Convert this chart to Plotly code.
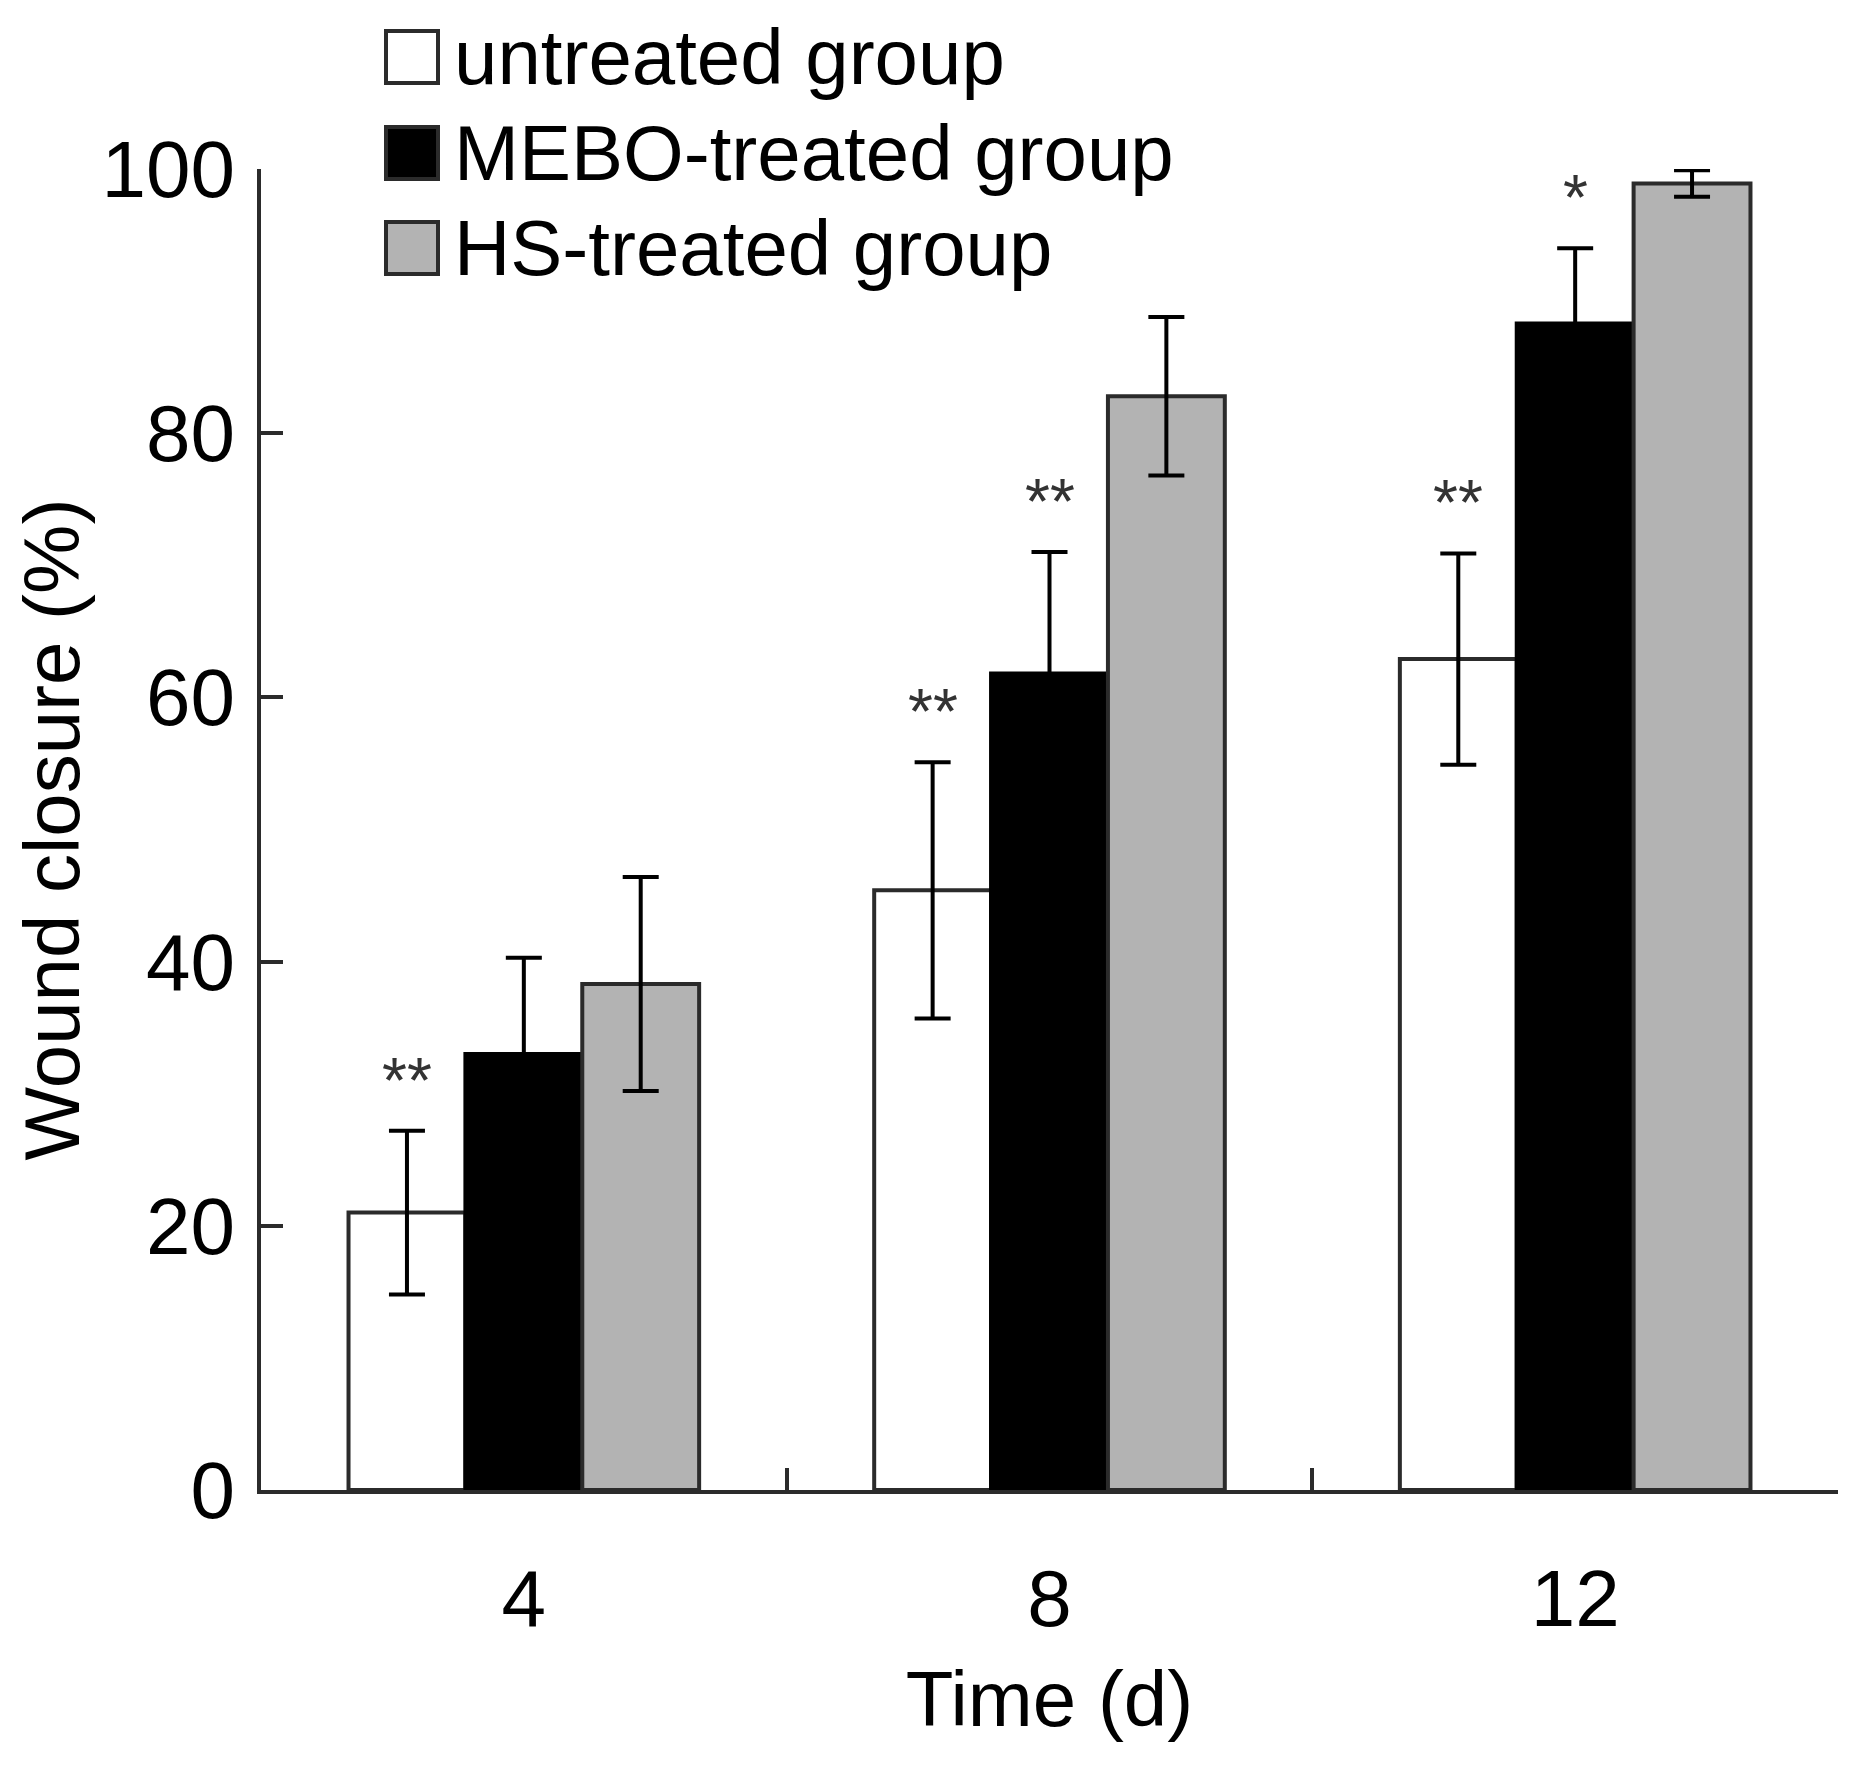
import plotly.graph_objects as go

# -- Data --
days = ["4", "8", "12"]

untreated = [21.0, 45.4, 62.9]
untreated_err = [6.2, 9.7, 8.0]

mebo = [33.0, 61.8, 88.3]
mebo_err = [7.3, 9.2, 5.7]

hs = [38.3, 82.8, 98.9]
hs_err = [8.1, 6.0, 1.0]

groups = ["untreated group", "MEBO-treated group", "HS-treated group"]
y_ticks = [0, 20, 40, 60, 80, 100]

# significance marks: (day, series index, label)
stars = [("4", 0, "**"), ("8", 0, "**"), ("8", 1, "**"), ("12", 0, "**"), ("12", 1, "*")]

# -- Style --
W, H = 1863, 1791
ML, MR, MT, MB = 253, 33, 161, 309
FONT = "Liberation Sans, Arial, sans-serif"
LINE = "#2b2b2b"
FILLS = ["white", "black", "#b3b3b3"]
BARGAP = 0.333


def px_x(px):
    return (px - ML) / (W - ML - MR)


def px_y(py):
    return (H - MB - py) / (H - MT - MB)


fig = go.Figure()
series = [(untreated, untreated_err), (mebo, mebo_err), (hs, hs_err)]
for name, (vals, errs), fill in zip(groups, series, FILLS):
    fig.add_trace(go.Bar(
        x=days, y=vals, name=name,
        marker=dict(color=fill, line=dict(color=LINE if fill != "black" else "black", width=4)),
        error_y=dict(type="data", array=errs, visible=True, color="black", thickness=4, width=18),
        cliponaxis=False,
    ))

# stars above error bars, centred on their bar inside the group
bar_w = (1 - BARGAP) / 3
for day, si, label in stars:
    i = days.index(day)
    vals, errs = series[si]
    fig.add_annotation(
        x=i + (si - 1) * bar_w, y=vals[i] + errs[i], xref="x", yref="y",
        text=label, showarrow=False, yanchor="bottom", yshift=12,
        font=dict(family=FONT, size=64, color="#333333"),
    )

# custom legend (large square swatches)
rows = [49, 145, 240]
for name, fill, cy in zip(groups, FILLS, rows):
    fig.add_shape(type="rect", xref="paper", yref="paper",
                  x0=px_x(378), x1=px_x(430), y0=px_y(cy + 26), y1=px_y(cy - 26),
                  fillcolor=fill, line=dict(color=LINE, width=4))
    fig.add_annotation(xref="paper", yref="paper", x=px_x(444), y=px_y(cy),
                       xanchor="left", yanchor="middle", showarrow=False, text=name,
                       font=dict(family=FONT, size=78, color="black"))

fig.update_layout(
    width=W, height=H,
    margin=dict(l=ML, r=MR, t=MT, b=MB),
    paper_bgcolor="white", plot_bgcolor="white",
    barmode="group", bargap=BARGAP, bargroupgap=0,
    showlegend=False,
    font=dict(family=FONT, size=78, color="black"),
)
fig.update_xaxes(
    type="category", tickson="boundaries", ticks="inside", ticklen=22, tickwidth=4,
    tickcolor=LINE, showline=True, linecolor=LINE, linewidth=4, showgrid=False,
    tickfont=dict(size=80), ticklabelstandoff=36,
    title=dict(text="Time (d)", font=dict(size=78), standoff=30),
)
fig.update_yaxes(
    range=[0, 100], tickvals=y_ticks, ticks="inside", ticklen=22, tickwidth=4,
    tickcolor=LINE, showline=True, linecolor=LINE, linewidth=4, showgrid=False,
    zeroline=False, tickfont=dict(size=80), ticklabelstandoff=6,
    title=dict(text="Wound closure (%)", font=dict(size=78), standoff=22),
)

fig.write_html("out.html")
